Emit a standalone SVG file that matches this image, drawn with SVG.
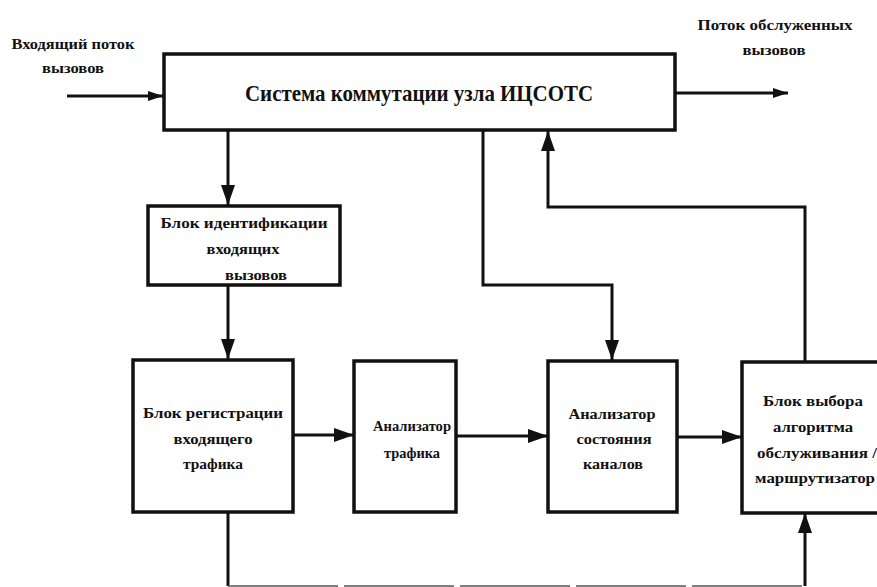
<svg xmlns="http://www.w3.org/2000/svg" width="877" height="587" viewBox="0 0 877 587">
<defs>
<style>
.box{fill:#fff;stroke:#111;stroke-width:3.5}
.ln{fill:none;stroke:#111;stroke-width:3}
.thin{fill:none;stroke:#555;stroke-width:1.5;stroke-dasharray:110 6}
text{font-family:"Liberation Serif","Times New Roman",serif;font-weight:bold;fill:#111;text-anchor:middle}
.t{font-size:15px}
.title{font-size:23px}
</style>
<marker id="ah" markerUnits="userSpaceOnUse" markerWidth="22" markerHeight="14" refX="20" refY="7" orient="auto">
<path d="M0,0 L20,7 L0,14 z" fill="#111"/>
</marker>
<marker id="ahs" markerUnits="userSpaceOnUse" markerWidth="16" markerHeight="10" refX="15" refY="5" orient="auto">
<path d="M0,0 L15,5 L0,10 z" fill="#111"/>
</marker>
</defs>
<rect width="877" height="587" fill="#fff"/>

<g id="connectors">
<line class="ln" x1="67" y1="96" x2="163" y2="96" marker-end="url(#ahs)"/>
<line class="ln" x1="675" y1="93" x2="788" y2="93" marker-end="url(#ahs)"/>
<line class="ln" x1="228" y1="130" x2="228" y2="205" marker-end="url(#ah)"/>
<line class="ln" x1="228" y1="285" x2="228" y2="359" marker-end="url(#ah)"/>
<line class="ln" x1="293" y1="435" x2="354" y2="435" marker-end="url(#ah)"/>
<line class="ln" x1="456" y1="436" x2="548" y2="436" marker-end="url(#ah)"/>
<line class="ln" x1="677" y1="437" x2="742" y2="437" marker-end="url(#ah)"/>
<polyline class="ln" points="483,130 483,285 612,285 612,360" marker-end="url(#ah)"/>
<polyline class="ln" points="805,361 805,207 548,207 548,131" marker-end="url(#ah)"/>
<line class="ln" x1="228" y1="512" x2="228" y2="586"/>
<line class="thin" x1="228" y1="586" x2="805" y2="586"/>
<line class="ln" x1="805" y1="586" x2="805" y2="513" marker-end="url(#ah)"/>
</g>

<g id="in-label">
<text class="t" x="73" y="49" textLength="123" lengthAdjust="spacingAndGlyphs">Входящий поток</text>
<text class="t" x="73" y="73" textLength="62" lengthAdjust="spacingAndGlyphs">вызовов</text>
</g>
<g id="out-label">
<text class="t" x="775" y="30" textLength="155" lengthAdjust="spacingAndGlyphs">Поток обслуженных</text>
<text class="t" x="774" y="55" textLength="63" lengthAdjust="spacingAndGlyphs">вызовов</text>
</g>

<g id="switch">
<rect class="box" x="164" y="54" width="511" height="76"/>
<text class="title" x="419" y="101" textLength="348" lengthAdjust="spacingAndGlyphs">Система коммутации узла ИЦСОТС</text>
</g>

<g id="ident">
<rect class="box" x="148" y="206" width="192" height="79"/>
<text class="t" x="244" y="228" textLength="167" lengthAdjust="spacingAndGlyphs">Блок  идентификации</text>
<text class="t" x="243" y="254" textLength="73" lengthAdjust="spacingAndGlyphs">входящих</text>
<text class="t" x="256" y="280" textLength="62" lengthAdjust="spacingAndGlyphs">вызовов</text>
</g>

<g id="register">
<rect class="box" x="133" y="360" width="160" height="152"/>
<text class="t" x="213" y="418" textLength="140" lengthAdjust="spacingAndGlyphs">Блок  регистрации</text>
<text class="t" x="213" y="444" textLength="79" lengthAdjust="spacingAndGlyphs">входящего</text>
<text class="t" x="213" y="469" textLength="60" lengthAdjust="spacingAndGlyphs">трафика</text>
</g>

<g id="traffic">
<rect class="box" x="354" y="361" width="102" height="151"/>
<text class="t" x="412" y="431" textLength="78" lengthAdjust="spacingAndGlyphs">Анализатор</text>
<text class="t" x="412" y="458" textLength="56" lengthAdjust="spacingAndGlyphs">трафика</text>
</g>

<g id="channels">
<rect class="box" x="548" y="361" width="129" height="151"/>
<text class="t" x="612" y="419" textLength="87" lengthAdjust="spacingAndGlyphs">Анализатор</text>
<text class="t" x="614" y="444" textLength="75" lengthAdjust="spacingAndGlyphs">состояния</text>
<text class="t" x="613" y="469" textLength="60" lengthAdjust="spacingAndGlyphs">каналов</text>
</g>

<g id="router">
<rect class="box" x="742" y="362" width="150" height="151"/>
<text class="t" x="813" y="406" textLength="100" lengthAdjust="spacingAndGlyphs">Блок выбора</text>
<text class="t" x="813" y="432" textLength="80" lengthAdjust="spacingAndGlyphs">алгоритма</text>
<text class="t" x="817" y="458" textLength="120" lengthAdjust="spacingAndGlyphs">обслуживания /</text>
<text class="t" x="815" y="483" textLength="120" lengthAdjust="spacingAndGlyphs">маршрутизатор</text>
</g>
</svg>
